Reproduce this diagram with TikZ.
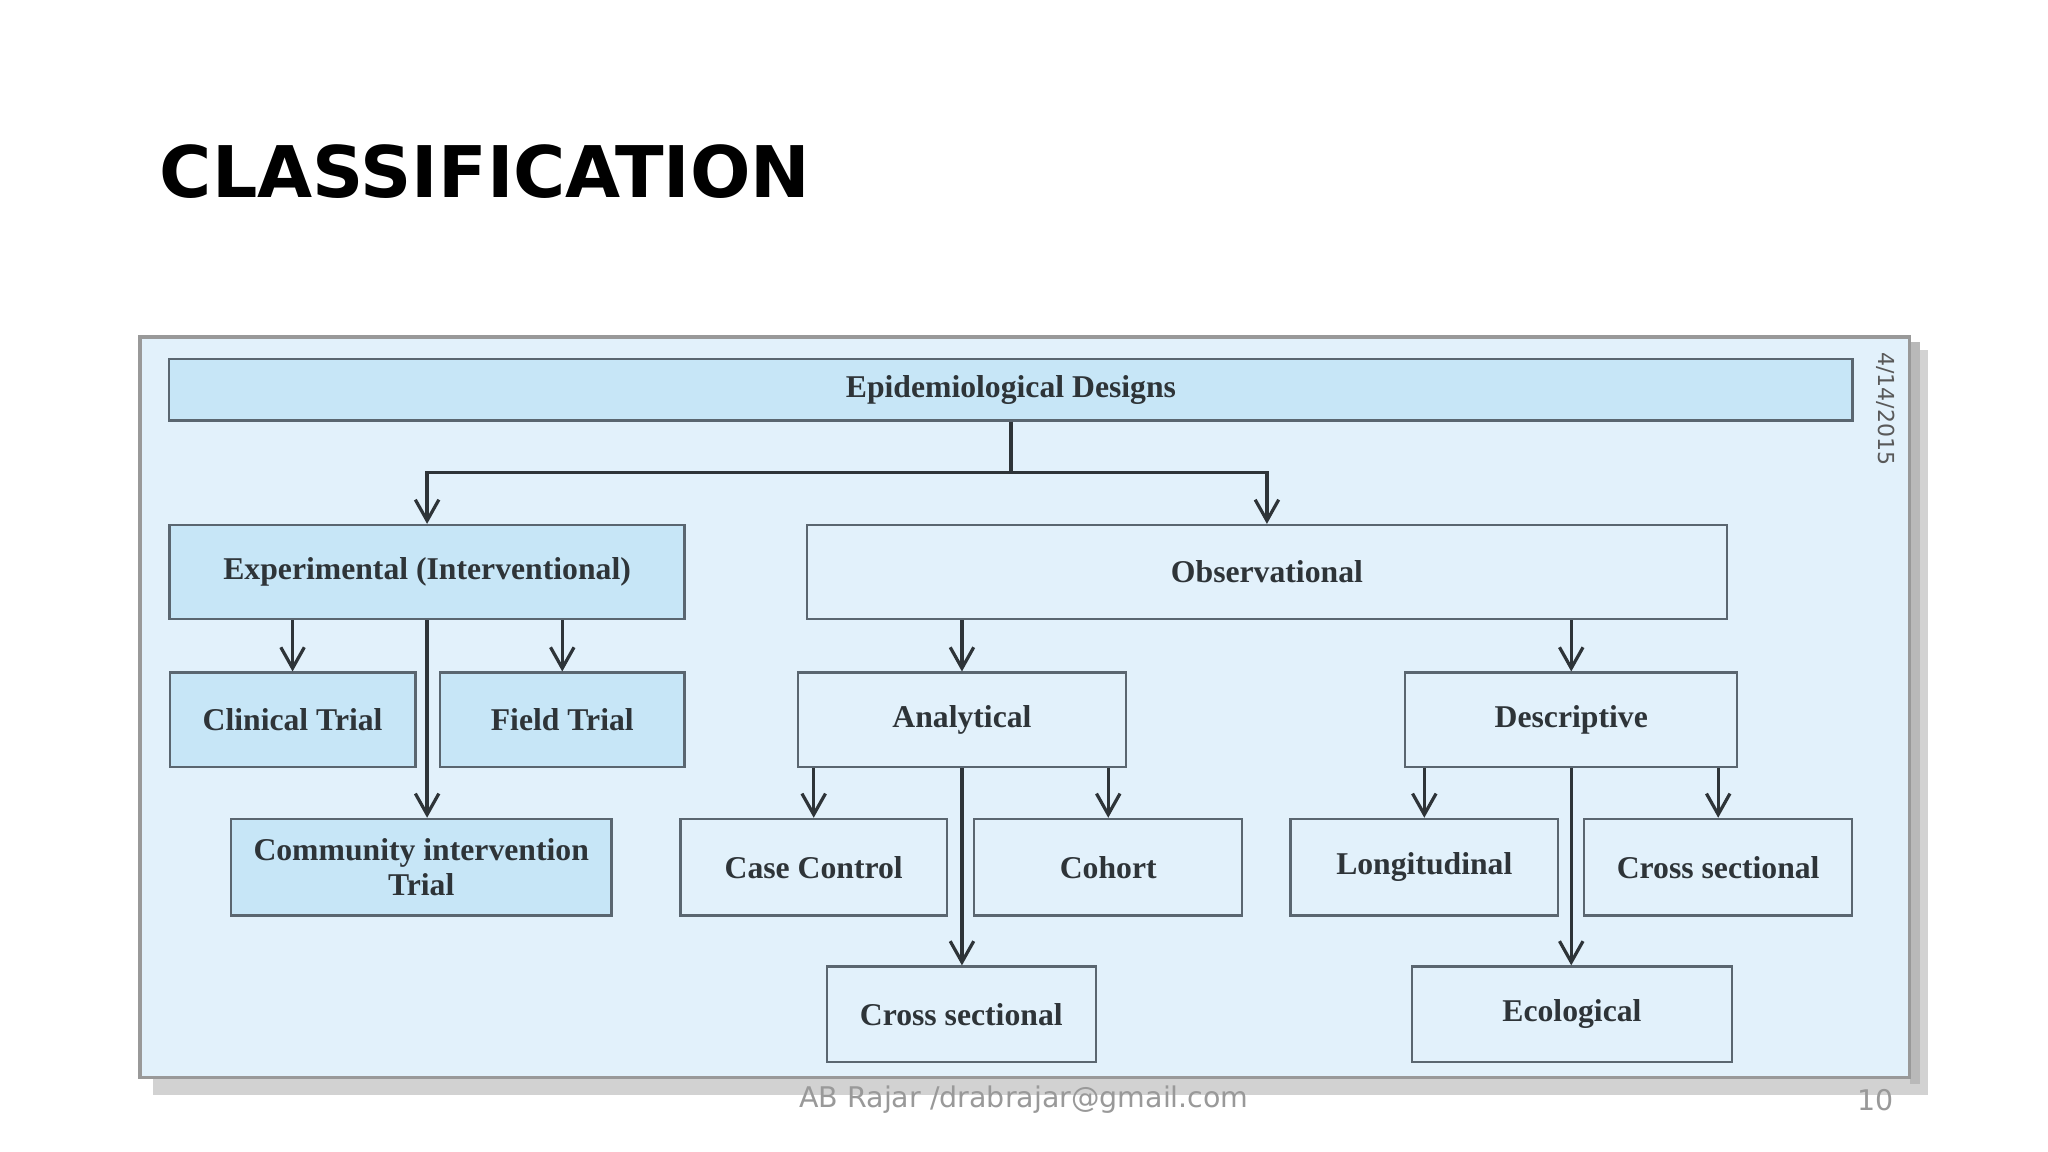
\documentclass[tikz,border=0pt]{standalone}
\usepackage{fontspec}
\setmainfont{Liberation Serif}
\newfontfamily\titlefont{DejaVu Sans}
\newfontfamily\footfont{DejaVu Sans}
\usetikzlibrary{arrows.meta}
\definecolor{panel}{HTML}{E2F1FB}
\definecolor{boxdark}{HTML}{C7E6F7}
\definecolor{edge}{HTML}{5A6670}
\definecolor{txt}{HTML}{2E3438}
\tikzset{
  bx/.style={draw=edge,line width=0.5pt,fill=panel,text=txt,font=\fontsize{6.9}{7.6}\selectfont\bfseries,align=center,inner sep=1pt},
  bxd/.style={bx,fill=boxdark},
  ar/.style={draw=txt,line width=0.7pt,-{Straight Barb[length=1.6mm,width=1.8mm]}},
  ln/.style={draw=txt,line width=0.7pt}
}
\begin{document}
\begin{tikzpicture}[x=0.01cm,y=-0.01cm]
\useasboundingbox[fill=white] (0,0) rectangle (1568,882);
% shadow
\fill[gray!35] (117,268) rectangle (1476,838);
\fill[gray!55] (1462,262) rectangle (1470,830);
\fill[panel,draw=gray!80,line width=0.8pt] (107,258) rectangle (1462,825);
\node[anchor=west,font=\titlefont\fontsize{15.5}{18}\selectfont\bfseries] (title) at (110,131) {CLASSIFICATION};
% boxes
\node[bxd,minimum width=12.88cm,minimum height=0.47cm] (top) at (774,298.5) {Epidemiological Designs};
\node[bxd,minimum width=3.94cm,minimum height=0.72cm] (exp) at (327,438) {Experimental (Interventional)};
\node[bx,minimum width=7.04cm,minimum height=0.72cm] (obs) at (970,438) {Observational};
\node[bxd,minimum width=1.88cm,minimum height=0.72cm] (clin) at (224,551) {Clinical Trial};
\node[bxd,minimum width=1.87cm,minimum height=0.72cm] (field) at (430.5,551) {Field Trial};
\node[bxd,minimum width=2.91cm,minimum height=0.74cm] (comm) at (322.5,664) {Community intervention\\Trial};
\node[bx,minimum width=2.51cm,minimum height=0.72cm] (ana) at (736.5,551) {Analytical};
\node[bx,minimum width=2.54cm,minimum height=0.72cm] (desc) at (1203,551) {Descriptive};
\node[bx,minimum width=2.04cm,minimum height=0.74cm] (cc) at (623,664) {Case Control};
\node[bx,minimum width=2.05cm,minimum height=0.74cm] (coh) at (848.5,664) {Cohort};
\node[bx,minimum width=2.06cm,minimum height=0.73cm] (cs1) at (736,776.5) {Cross sectional};
\node[bx,minimum width=2.05cm,minimum height=0.74cm] (lon) at (1090.5,664) {Longitudinal};
\node[bx,minimum width=2.05cm,minimum height=0.74cm] (cs2) at (1315.5,664) {Cross sectional};
\node[bx,minimum width=2.45cm,minimum height=0.73cm] (eco) at (1203.5,776.5) {Ecological};
% connectors
\coordinate (j) at (774,362);
\draw[ln] (top.south) -- (j);
\draw[ar] (j) -| (exp.north);
\draw[ar] (j) -| (obs.north);
\draw[ar] (exp.south -| clin) -- (clin.north);
\draw[ar] (exp.south -| field) -- (field.north);
\draw[ar] (exp.south) -- (comm.north -| exp.south);
\draw[ar] (obs.south -| ana) -- (ana.north);
\draw[ar] (obs.south -| desc) -- (desc.north);
\draw[ar] (ana.south -| cc) -- (cc.north);
\draw[ar] (ana.south -| coh) -- (coh.north);
\draw[ar] (ana.south) -- (cs1.north -| ana.south);
\draw[ar] (desc.south -| lon) -- (lon.north);
\draw[ar] (desc.south -| cs2) -- (cs2.north);
\draw[ar] (desc.south) -- (eco.north -| desc.south);
% side date
\node[rotate=-90,font=\footfont\fontsize{4.8}{6}\selectfont,text=gray!70!black] (date) at (1444,313) {4/14/2015};
% footer
\node[font=\footfont\fontsize{6.2}{7}\selectfont,text=gray!80] (foot) at (784,842) {AB Rajar /drabrajar@gmail.com};
\node[font=\footfont\fontsize{6.2}{7}\selectfont,text=gray!80] (pg) at (1436,842) {10};
\end{tikzpicture}
\end{document}
